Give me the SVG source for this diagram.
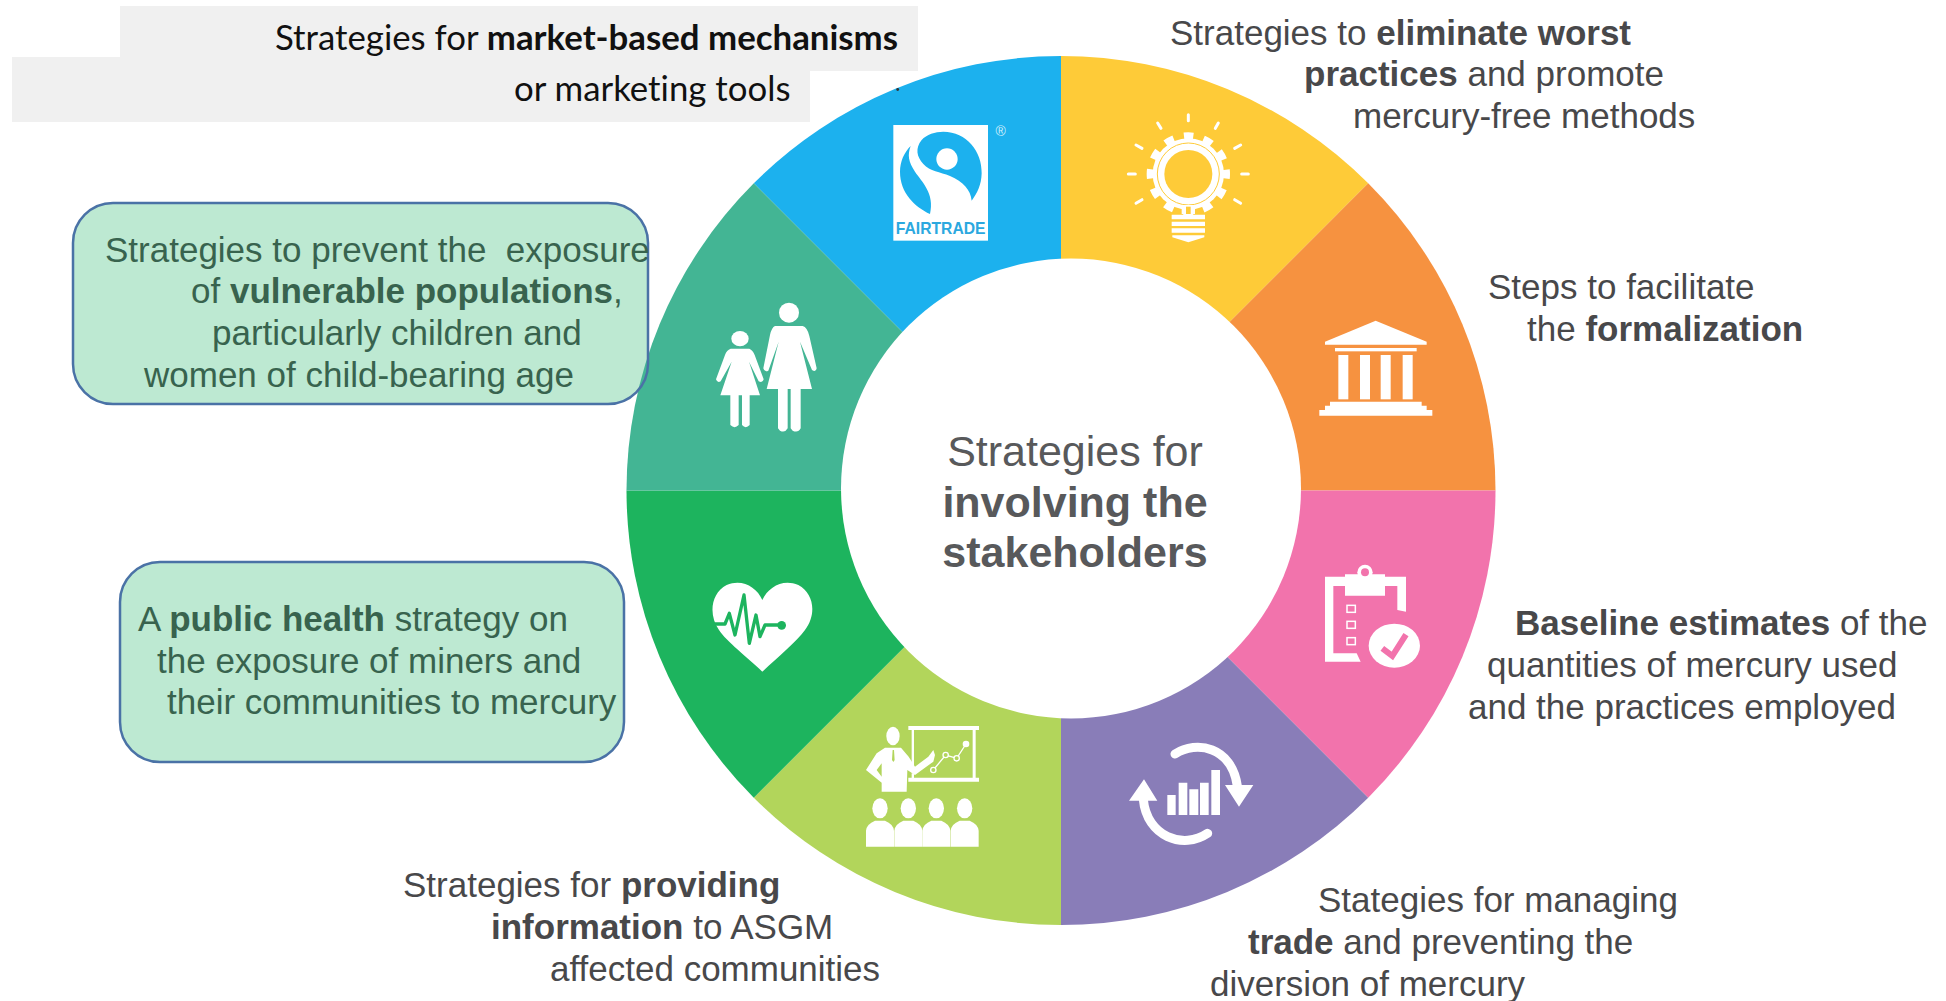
<svg xmlns="http://www.w3.org/2000/svg" width="1946" height="1001" viewBox="0 0 1946 1001">
<style>
text{font-family:"Liberation Sans",Arial,sans-serif;font-size:35px;fill:#48484A;white-space:pre}
.b{font-weight:700}
.g text{fill:#38634E}
.box{fill:#BDE9D2}
.out{fill:none;stroke:#4A72A6;stroke-width:2.5}
.top text{font-family:Lato,"Open Sans",sans-serif;font-size:34.800px;fill:#111;font-variant-ligatures:none}
.ctr text{font-size:43px;fill:#58595B;text-anchor:middle}
.w{fill:#fff}
</style>
<rect width="1946" height="1001" fill="#fff"/>
<g id="market-label" class="top">
<rect x="120" y="6" width="798" height="65" fill="#F0F0F0"/>
<rect x="12" y="57" width="798" height="65" fill="#F0F0F0"/>
<text x="275" y="50">Strategies for <tspan class="b">market-based mechanisms</tspan></text>
<text x="514" y="101">or marketing tools</text>
</g>
<rect class="box" x="73" y="203" width="575" height="201" rx="40"/>
<rect class="box" x="120" y="562" width="504" height="200" rx="40"/>
<g id="ring">
<path d="M1061 490.5V56A434.5 434.5 0 0 0 753.8 183.3Z" fill="#1CB1EE"/>
<path d="M1061 490.5V56A434.5 434.5 0 0 1 1368.2 183.3Z" fill="#FECB38"/>
<path d="M1061 490.5L1368.2 183.3A434.5 434.5 0 0 1 1495.5 490.5Z" fill="#F69240"/>
<path d="M1061 490.5H1495.5A434.5 434.5 0 0 1 1368.2 797.7Z" fill="#F273AC"/>
<path d="M1061 490.5L1368.2 797.7A434.5 434.5 0 0 1 1061 925Z" fill="#897DB8"/>
<path d="M1061 490.5V925A434.5 434.5 0 0 1 753.8 797.7Z" fill="#B2D55B"/>
<path d="M1061 490.5L753.8 797.7A434.5 434.5 0 0 1 626.5 490.5Z" fill="#1DB45E"/>
<path d="M1061 490.5H626.5A434.5 434.5 0 0 1 753.8 183.3Z" fill="#43B594"/>
<circle cx="1071" cy="488.5" r="230" fill="#fff"/>
<circle cx="897.7" cy="89.5" r="1.4" fill="#333"/>
</g>
<g id="icon-fairtrade" transform="translate(600 40) scale(.33333)">
<rect class="w" x="880" y="255" width="284" height="347"/>
<path d="M1030 275C1100 275 1147 335 1145 400C1144 435 1132 460 1115 482C1112 450 1090 425 1050 408C1020 395 990 395 970 372C950 350 945 325 965 300C980 283 1005 275 1030 275Z" fill="#1CB1EE"/>
<circle class="w" cx="1041" cy="357" r="32"/>
<path d="M932 318C922 345 925 365 945 395C965 425 1005 460 990 522C945 500 900 460 900 395C900 365 912 338 932 318Z" fill="#1CB1EE"/>
<text x="1022" y="582" text-anchor="middle" style="font-size:47px;font-weight:700;fill:#2BA8DF">FAIRTRADE</text>
<text x="1202" y="288" text-anchor="middle" style="font-size:42px;fill:#cfeefb">®</text>
</g>
<g id="icon-people" class="w" transform="translate(600 40) scale(.33333)">
<circle cx="567" cy="818" r="30"/>
<path d="M525 858H608Q622 862 628 888L650 985Q648 998 636 990L600 905L636 1047H602V1165Q594 1180 578 1172L572 1165V1047H563V1165Q555 1180 540 1172L534 1165V1047H500L536 905L505 992Q493 998 490 985L510 885Q515 862 525 858Z"/>
<ellipse cx="420" cy="896" rx="26" ry="23"/>
<path d="M392 926H448Q458 930 464 945L491 1018Q488 1030 476 1024L447 965L480 1066H449V1155Q437 1168 426 1155V1066H416V1155Q404 1168 391 1155V1066H361L395 965L362 1024Q352 1030 348 1018L375 945Q380 930 392 926Z"/>
</g>
<g id="icon-bulb" transform="translate(1040 40) scale(.33333)">
<g stroke="#fff" stroke-width="9" stroke-linecap="round" fill="none">
<path d="M445 224V242M353 249L363 265M535 249L526 265M288 315L306 325M602 315L584 325M265 402H286M625 402H605M288 490L306 479M602 490L584 479"/>
</g>
<circle cx="445" cy="402" r="113" fill="none" stroke="#fff" stroke-width="24" stroke-dasharray="28 31.17" stroke-dashoffset="14"/>
<circle class="w" cx="445" cy="402" r="107"/>
<circle cx="445" cy="402" r="93" fill="none" stroke="#FECB38" stroke-width="3"/>
<circle cx="445" cy="402" r="72" fill="#FECB38"/>
<path class="w" d="M425 495H465V522H425Z"/>
<path d="M438 500H452V522H438Z" fill="#FECB38"/>
<path class="w" d="M395 524H495V538H395ZM395 545H495V558H395ZM395 565H495V578H395ZM397 586H493V592L445 607L397 592Z"/>
</g>
<g id="icon-temple" class="w" transform="translate(1040 40) scale(.33333)">
<path d="M1007 842L1160 905V914H855V905Z"/>
<rect x="885" y="924" width="245" height="10"/>
<rect x="895" y="945" width="30" height="133"/>
<rect x="960" y="945" width="30" height="133"/>
<rect x="1022" y="945" width="30" height="133"/>
<rect x="1088" y="945" width="30" height="133"/>
<path d="M870 1085H1145V1097H1160V1110H1177V1127H838V1110H855V1097H870Z"/>
</g>
<g id="icon-clipboard" transform="translate(1050 480) scale(.33333)">
<path class="w" d="M825 290H885V283H1005V290H1068V395L1042 390V318H1005V347H885V318H850V520H920L932 545H825Z"/>
<circle class="w" cx="945" cy="277" r="23"/>
<circle cx="945" cy="277" r="12" fill="#F273AC"/>
<g fill="none" stroke="#fff" stroke-width="4.500">
<rect x="891" y="376" width="25" height="21"/>
<rect x="891" y="424" width="25" height="21"/>
<rect x="891" y="473" width="25" height="21"/>
</g>
<ellipse class="w" cx="1033" cy="497" rx="77" ry="66"/>
<path d="M997 505L1027 528L1068 464" fill="none" stroke="#F273AC" stroke-width="18"/>
</g>
<g id="icon-cycle" transform="translate(1050 480) scale(.33333)">
<path d="M375 822C440 780 545 800 562 918M473 1060C400 1110 290 1070 280 958" fill="none" stroke="#fff" stroke-width="27" stroke-linecap="round"/>
<path class="w" d="M525 915H610L567 980ZM237 962H322L282 898Z"/>
<path class="w" d="M352 945H377V1005H352ZM386 908H412V1005H386ZM418 928H445V1005H418ZM450 908H476V1005H450ZM484 870H510V1005H484Z"/>
</g>
<g id="icon-presenter" transform="translate(620 480) scale(.33333)">
<defs><g id="p"><ellipse class="w" cx="0" cy="985" rx="23" ry="30"/><path class="w" d="M-42 1100V1052Q-40 1032 -15 1022H15Q40 1032 42 1052V1100Z"/></g></defs>
<use href="#p" x="780"/><use href="#p" x="865"/><use href="#p" x="949"/><use href="#p" x="1034"/>
<ellipse class="w" cx="819" cy="768" rx="20" ry="28"/>
<path class="w" fill-rule="evenodd" d="M795 803H843L866 830L885 860L925 830L940 810L945 825L940 845L885 885L862 870L860 935H785V908L738 870L770 820ZM785 850L770 870L785 890Z"/>
<path d="M818 810H822L824 840L820 846L816 840Z" fill="#B2D55B"/>
<path class="w" d="M865 738H1077V750H1067V893H1077V905H865V893H875V880H882V893H1058V750H882V855H875V750H865Z"/>
<path d="M940 870L977 825L1010 835L1038 792" fill="none" stroke="#fff" stroke-width="4"/>
<g fill="#B2D55B" stroke="#fff" stroke-width="4"><circle cx="940" cy="870" r="8"/><circle cx="977" cy="825" r="8"/><circle cx="1010" cy="835" r="8"/></g>
<circle class="w" cx="1038" cy="792" r="10"/>
</g>
<g id="icon-heart" transform="translate(620 480) scale(.33333)">
<path class="w" d="M427 575C380 530 320 485 297 450C265 405 272 340 320 315C365 295 410 320 427 360C445 320 490 295 535 315C583 340 590 405 555 450C530 485 475 530 427 575Z"/>
<path d="M285 432H315L328 400L345 465L372 345L388 490L408 405L420 470L435 435H485" fill="none" stroke="#1DB45E" stroke-width="10" stroke-linejoin="round"/>
<circle cx="485" cy="436" r="13" fill="#1DB45E"/>
</g>
<rect class="out" x="73" y="203" width="575" height="201" rx="40"/>
<rect class="out" x="120" y="562" width="504" height="200" rx="40"/>
<g id="center" class="ctr">
<text x="1075" y="466">Strategies for</text>
<text x="1075" y="517" class="b">involving the</text>
<text x="1075" y="567" class="b">stakeholders</text>
</g>
<g id="label-eliminate">
<text x="1170" y="45">Strategies to <tspan class="b">eliminate worst</tspan></text>
<text x="1304" y="86"><tspan class="b">practices</tspan> and promote</text>
<text x="1353" y="128">mercury-free methods</text>
</g>
<g id="label-formalization">
<text x="1488" y="299">Steps to facilitate</text>
<text x="1527" y="341">the <tspan class="b">formalization</tspan></text>
</g>
<g id="label-baseline">
<text x="1515" y="635"><tspan class="b">Baseline estimates</tspan> of the</text>
<text x="1487" y="677">quantities of mercury used</text>
<text x="1468" y="719">and the practices employed</text>
</g>
<g id="label-trade">
<text x="1318" y="912">Stategies for managing</text>
<text x="1248" y="954"><tspan class="b">trade</tspan> and preventing the</text>
<text x="1210" y="996">diversion of mercury</text>
</g>
<g id="label-information">
<text x="403" y="897">Strategies for <tspan class="b">providing</tspan></text>
<text x="491" y="939"><tspan class="b">information</tspan> to ASGM</text>
<text x="550" y="981">affected communities</text>
</g>
<g id="box-vulnerable" class="g">
<text x="105" y="262">Strategies to prevent the  exposure</text>
<text x="191" y="303">of <tspan class="b">vulnerable populations</tspan>,</text>
<text x="212" y="345">particularly children and</text>
<text x="144" y="387">women of child-bearing age</text>
</g>
<g id="box-health" class="g">
<text x="138" y="631">A <tspan class="b">public health</tspan> strategy on</text>
<text x="157" y="673">the exposure of miners and</text>
<text x="167" y="714">their communities to mercury</text>
</g>
</svg>
